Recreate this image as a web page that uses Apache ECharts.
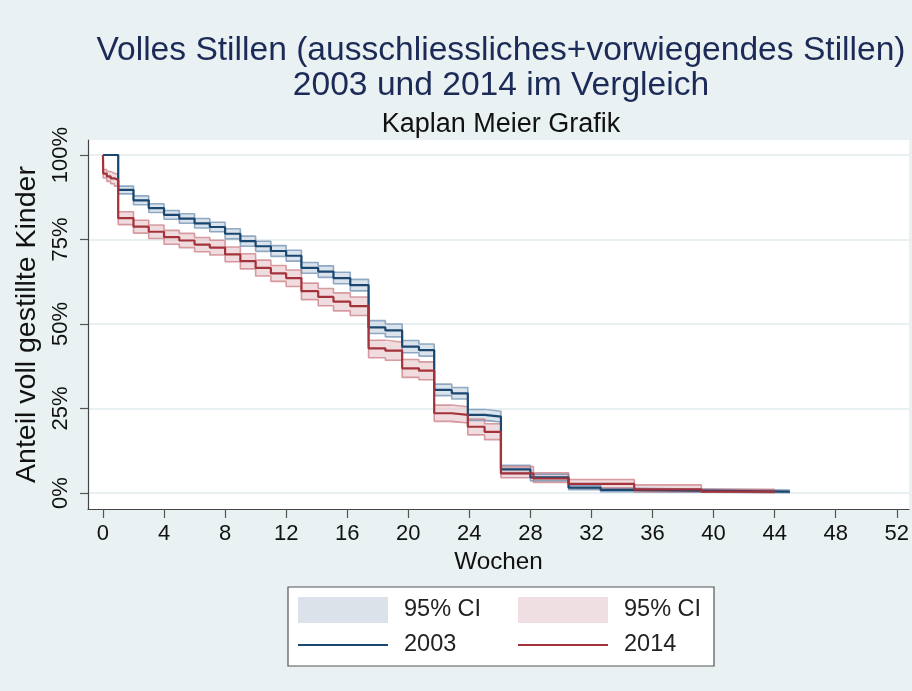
<!doctype html>
<html>
    <head>
        <meta charset="utf-8">
        <title>Volles Stillen - Kaplan Meier</title>
        <style>
            html, body { margin: 0; padding: 0; background: #e9f1f2; }
            #main { width: 912px; height: 691px; }
        </style>
    </head>
    <body>
        <div id="main"></div>
        <script src="https://cdn.jsdelivr.net/npm/echarts@6/dist/echarts.min.js"></script>
        <script>
            // Kaplan-Meier estimates (weeks, share still fully breastfed)
            var weeks2003 = [0, 1, 2, 3, 4, 5, 6, 7, 8, 9, 10, 11, 12, 13, 14.1, 15.1, 16.2, 17.4, 18.5, 19.6, 20.7, 21.7, 22.85, 23.9, 25.0, 26.07, 28.0, 30.5, 32.6, 34.8, 45];
            var surv2003 = [1.0, 0.897, 0.866, 0.843, 0.823, 0.812, 0.798, 0.787, 0.767, 0.745, 0.730, 0.716, 0.702, 0.666, 0.655, 0.636, 0.615, 0.490, 0.481, 0.433, 0.423, 0.305, 0.295, 0.231, 0.226, 0.070, 0.046, 0.016, 0.009, 0.004, 0.004];
            var low2003 = [1.0, 0.885, 0.853, 0.830, 0.810, 0.798, 0.784, 0.773, 0.752, 0.730, 0.715, 0.700, 0.686, 0.650, 0.638, 0.619, 0.598, 0.472, 0.462, 0.415, 0.405, 0.288, 0.278, 0.215, 0.210, 0.058, 0.036, 0.010, 0.004, 0.001, 0.001];
            var upp2003 = [1.0, 0.908, 0.879, 0.856, 0.836, 0.826, 0.812, 0.801, 0.782, 0.760, 0.745, 0.732, 0.718, 0.682, 0.672, 0.653, 0.632, 0.510, 0.500, 0.451, 0.441, 0.322, 0.312, 0.247, 0.242, 0.082, 0.056, 0.023, 0.014, 0.009, 0.009];

            var weeks2014 = [0, 0.02, 0.25, 0.5, 0.75, 1, 2, 3, 4, 5, 6, 7, 8, 9, 10, 11, 12, 13, 14.1, 15.1, 16.2, 17.4, 18.5, 19.6, 20.7, 21.7, 22.85, 23.9, 25.0, 26.07, 28.2, 30.5, 34.8, 39.2, 44];
            var surv2014 = [1.0, 0.945, 0.937, 0.931, 0.926, 0.813, 0.788, 0.773, 0.757, 0.747, 0.735, 0.726, 0.706, 0.686, 0.666, 0.650, 0.636, 0.597, 0.580, 0.566, 0.553, 0.428, 0.421, 0.369, 0.362, 0.236, 0.231, 0.196, 0.181, 0.058, 0.043, 0.027, 0.011, 0.004, 0.004];
            var low2014 = [1.0, 0.932, 0.922, 0.915, 0.908, 0.794, 0.769, 0.753, 0.736, 0.726, 0.714, 0.704, 0.684, 0.663, 0.642, 0.626, 0.611, 0.572, 0.554, 0.539, 0.525, 0.400, 0.393, 0.342, 0.335, 0.212, 0.207, 0.172, 0.158, 0.045, 0.031, 0.015, 0.004, 0.001, 0.001];
            var upp2014 = [1.0, 0.957, 0.951, 0.946, 0.942, 0.832, 0.807, 0.793, 0.777, 0.768, 0.756, 0.748, 0.728, 0.708, 0.689, 0.673, 0.660, 0.621, 0.605, 0.592, 0.580, 0.452, 0.447, 0.395, 0.388, 0.260, 0.255, 0.219, 0.205, 0.078, 0.060, 0.040, 0.024, 0.011, 0.011];

            var xTicks = [0, 4, 8, 12, 16, 20, 24, 28, 32, 36, 40, 44, 48, 52];
            var yTicks = [0, 0.25, 0.5, 0.75, 1];

            var legendNames = { ci2003: '95% CI', ci2014: '95% CI', '2003': '2003', '2014': '2014' };

            function pairs(xs, ys) {
                return xs.map(function (x, i) { return [x, ys[i]]; });
            }

            // step-shaped confidence band as one polygon, placed through the axes
            function bandRenderer(xs, lo, up, fill) {
                return function (params, api) {
                    var top = [], bottom = [];
                    for (var i = 0; i < xs.length; i++) {
                        var xEnd = i + 1 < xs.length ? xs[i + 1] : xs[i];
                        top.push(api.coord([xs[i], up[i]]), api.coord([xEnd, up[i]]));
                        bottom.push(api.coord([xs[i], lo[i]]), api.coord([xEnd, lo[i]]));
                    }
                    return {
                        type: 'polygon',
                        silent: true,
                        shape: { points: top.concat(bottom.reverse()) },
                        style: { fill: fill }
                    };
                };
            }

            var font = 'Liberation Sans, Arial, sans-serif';
            var blueEdge = 'rgba(112,144,178,0.75)';
            var redEdge = 'rgba(200,118,126,0.7)';
            var noSymbol = { opacity: 0, borderWidth: 0 };

            var chart = echarts.init(document.getElementById('main'));

            chart.setOption({
                animation: false,
                backgroundColor: '#e9f1f2',
                textStyle: { fontFamily: font },
                title: [{
                    text: 'Volles Stillen (ausschliessliches+vorwiegendes Stillen)\n2003 und 2014 im Vergleich',
                    left: 501,
                    top: 33,
                    padding: 0,
                    textAlign: 'center',
                    textStyle: { fontFamily: font, fontSize: 33.6, fontWeight: 'normal', lineHeight: 35, color: '#1c2a57' }
                }, {
                    text: 'Kaplan Meier Grafik',
                    left: 501,
                    top: 111,
                    padding: 0,
                    textAlign: 'center',
                    textStyle: { fontFamily: font, fontSize: 27, fontWeight: 'normal', color: '#111' }
                }],
                grid: {
                    left: 88,
                    top: 140,
                    right: 0,
                    bottom: 182,
                    show: true,
                    backgroundColor: '#fff',
                    borderWidth: 0
                },
                xAxis: {
                    type: 'value',
                    min: -0.98,
                    max: 52.8,
                    name: 'Wochen',
                    nameLocation: 'middle',
                    nameGap: 36,
                    nameTextStyle: { fontSize: 24.3, color: '#111', fontFamily: font },
                    axisLine: { onZero: false, lineStyle: { color: '#444', width: 1.2 } },
                    axisTick: { customValues: xTicks, length: 9, lineStyle: { color: '#555', width: 1.2 } },
                    axisLabel: { customValues: xTicks, fontSize: 22, color: '#111', margin: 14, fontFamily: font },
                    splitLine: { show: false }
                },
                yAxis: {
                    type: 'value',
                    min: -0.0473,
                    max: 1.0444,
                    name: 'Anteil voll gestillte Kinder',
                    nameLocation: 'middle',
                    nameRotate: 90,
                    nameGap: 46,
                    nameTextStyle: { fontSize: 28.5, color: '#111', fontFamily: font },
                    axisLine: { show: true, onZero: false, lineStyle: { color: '#444', width: 1.2 } },
                    axisTick: { show: true, customValues: yTicks, length: 8, lineStyle: { color: '#555', width: 1.2 } },
                    axisLabel: {
                        customValues: yTicks,
                        rotate: 90,
                        fontSize: 22,
                        color: '#111',
                        margin: 16,
                        fontFamily: font,
                        formatter: function (v) { return Math.round(v * 100) + '%'; }
                    },
                    splitLine: { show: true, lineStyle: { color: '#e1ebee', width: 1.5 } }
                },
                legend: [{
                    orient: 'vertical',
                    left: 297,
                    top: 597,
                    padding: 0,
                    itemWidth: 90,
                    itemHeight: 26,
                    itemGap: 10,
                    selectedMode: false,
                    formatter: function (n) { return legendNames[n]; },
                    textStyle: { fontSize: 23.5, color: '#222', fontFamily: font, padding: [0, 0, 0, 11] },
                    data: [
                        { name: 'ci2003', icon: 'rect', itemStyle: { color: '#dce2ea', borderWidth: 0 } },
                        { name: '2003', itemStyle: noSymbol }
                    ]
                }, {
                    orient: 'vertical',
                    left: 517,
                    top: 597,
                    padding: 0,
                    itemWidth: 90,
                    itemHeight: 26,
                    itemGap: 10,
                    selectedMode: false,
                    formatter: function (n) { return legendNames[n]; },
                    textStyle: { fontSize: 23.5, color: '#222', fontFamily: font, padding: [0, 0, 0, 11] },
                    data: [
                        { name: 'ci2014', icon: 'rect', itemStyle: { color: '#f0dfe2', borderWidth: 0 } },
                        { name: '2014', itemStyle: noSymbol }
                    ]
                }],
                graphic: [{
                    type: 'rect',
                    z: 0,
                    shape: { x: 288, y: 587, width: 426, height: 79 },
                    style: { fill: '#fff', stroke: '#555', lineWidth: 1.2 }
                }],
                series: [{
                    name: 'ci2003',
                    type: 'custom',
                    color: '#dce2ea',
                    renderItem: bandRenderer(weeks2003, low2003, upp2003, 'rgba(190,204,220,0.55)'),
                    data: [[weeks2003[0], surv2003[0]]],
                    z: 1
                }, {
                    name: 'ci2014',
                    type: 'custom',
                    color: '#f0dfe2',
                    renderItem: bandRenderer(weeks2014, low2014, upp2014, 'rgba(226,186,192,0.5)'),
                    data: [[weeks2014[0], surv2014[0]]],
                    z: 1
                }, {
                    name: 'ci2003low',
                    type: 'line', step: 'end', symbol: 'none', silent: true, z: 2,
                    lineStyle: { color: blueEdge, width: 1.6 },
                    data: pairs(weeks2003, low2003)
                }, {
                    name: 'ci2003upp',
                    type: 'line', step: 'end', symbol: 'none', silent: true, z: 2,
                    lineStyle: { color: blueEdge, width: 1.6 },
                    data: pairs(weeks2003, upp2003)
                }, {
                    name: 'ci2014low',
                    type: 'line', step: 'end', symbol: 'none', silent: true, z: 2,
                    lineStyle: { color: redEdge, width: 1.6 },
                    data: pairs(weeks2014, low2014)
                }, {
                    name: 'ci2014upp',
                    type: 'line', step: 'end', symbol: 'none', silent: true, z: 2,
                    lineStyle: { color: redEdge, width: 1.6 },
                    data: pairs(weeks2014, upp2014)
                }, {
                    name: '2003',
                    type: 'line', step: 'end', symbol: 'none', silent: true, z: 3,
                    color: '#1a476f',
                    lineStyle: { color: '#1a476f', width: 2.2 },
                    data: pairs(weeks2003, surv2003)
                }, {
                    name: '2014',
                    type: 'line', step: 'end', symbol: 'none', silent: true, z: 3,
                    color: '#a3323a',
                    lineStyle: { color: '#a3323a', width: 2.2 },
                    data: pairs(weeks2014, surv2014)
                }]
            });

            window.onresize = chart.resize;
        </script>
    </body>
</html>
